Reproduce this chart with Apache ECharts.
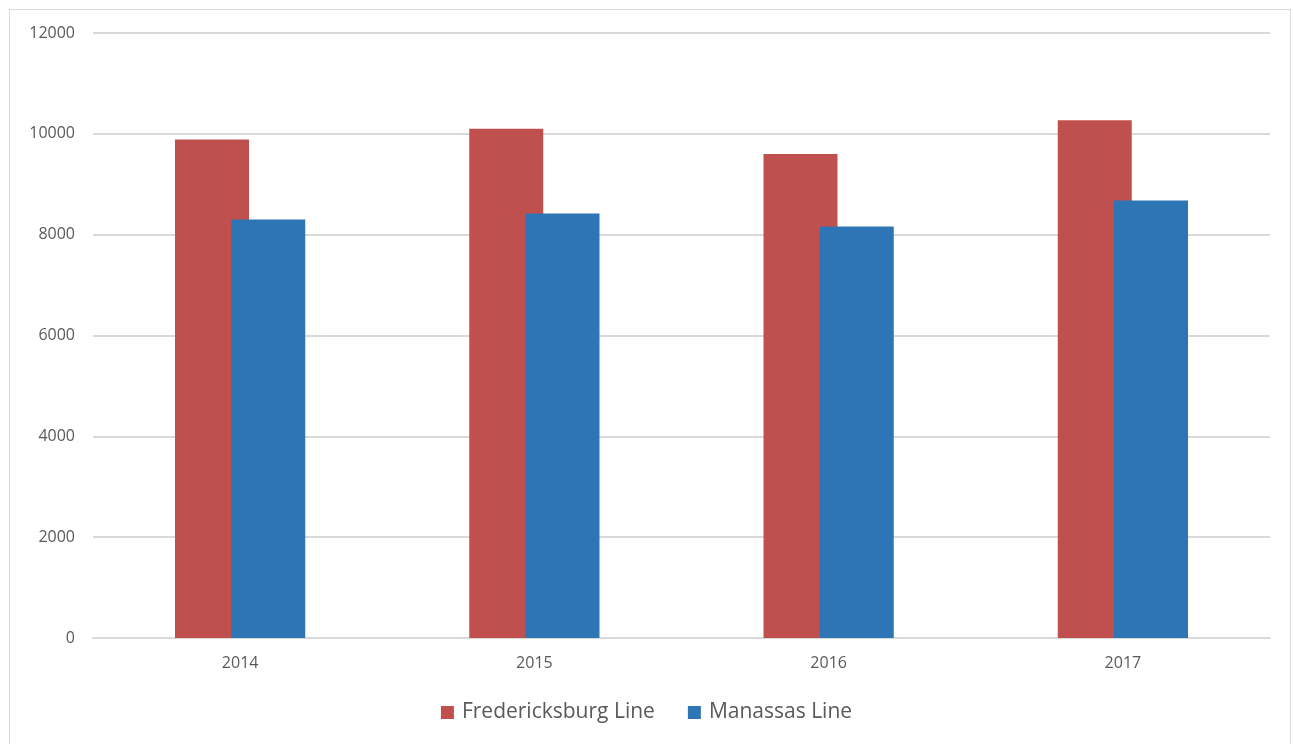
<!DOCTYPE html>
<html>
<head>
<meta charset="utf-8">
<script src="https://cdn.jsdelivr.net/npm/echarts@6/dist/echarts.min.js"></script>
<style>
  html, body { margin: 0; padding: 0; background: #fff; }
  #frame { position: absolute; left: 9px; top: 9px; width: 1282px; height: 740px; border: 1px solid #d9d9d9; box-sizing: border-box; }
  #chart { position: absolute; left: 0; top: 0; width: 1293px; height: 744px; }
</style>
</head>
<body>
<div id="frame"></div>
<div id="chart"></div>
<script>
const years = ["2014", "2015", "2016", "2017"]
const fredericksburg = [9890, 10100, 9600, 10270]
const manassas = [8300, 8420, 8160, 8680]
const yTicks = { min: 0, max: 12000, interval: 2000 }

const chart = echarts.init(document.getElementById("chart"))
const labelFont = { fontFamily: "'Open Sans', 'Liberation Sans', sans-serif", fontSize: 16, color: "#595959" }

chart.setOption({
  animation: false,
  grid: { left: 93, right: 23, top: 33, bottom: 106 },
  legend: {
    bottom: 16,
    left: "center",
    icon: "rect",
    itemWidth: 13,
    itemHeight: 13,
    itemGap: 33,
    textStyle: {
      fontFamily: "'Open Sans', 'Liberation Sans', sans-serif",
      fontSize: 21,
      color: "#595959",
      padding: [0, 0, 0, 3],
    },
    data: ["Fredericksburg Line", "Manassas Line"],
  },
  xAxis: {
    type: "category",
    data: years,
    axisTick: { show: false },
    axisLine: { lineStyle: { color: "#d9d9d9", width: 2 } },
    axisLabel: { ...labelFont, margin: 17 },
  },
  yAxis: {
    type: "value",
    min: yTicks.min,
    max: yTicks.max,
    interval: yTicks.interval,
    axisLine: { show: false },
    axisTick: { show: false },
    axisLabel: { ...labelFont, margin: 18, formatter: (v) => String(v) },
    splitLine: { lineStyle: { color: "#d9d9d9", width: 2 } },
  },
  series: [
    {
      name: "Fredericksburg Line",
      type: "bar",
      data: fredericksburg,
      barWidth: 74,
      barGap: "-24%",
      itemStyle: { color: "#C0504D" },
    },
    {
      name: "Manassas Line",
      type: "bar",
      data: manassas,
      barWidth: 74,
      itemStyle: { color: "#2E75B6" },
    },
  ],
})
</script>
</body>
</html>
